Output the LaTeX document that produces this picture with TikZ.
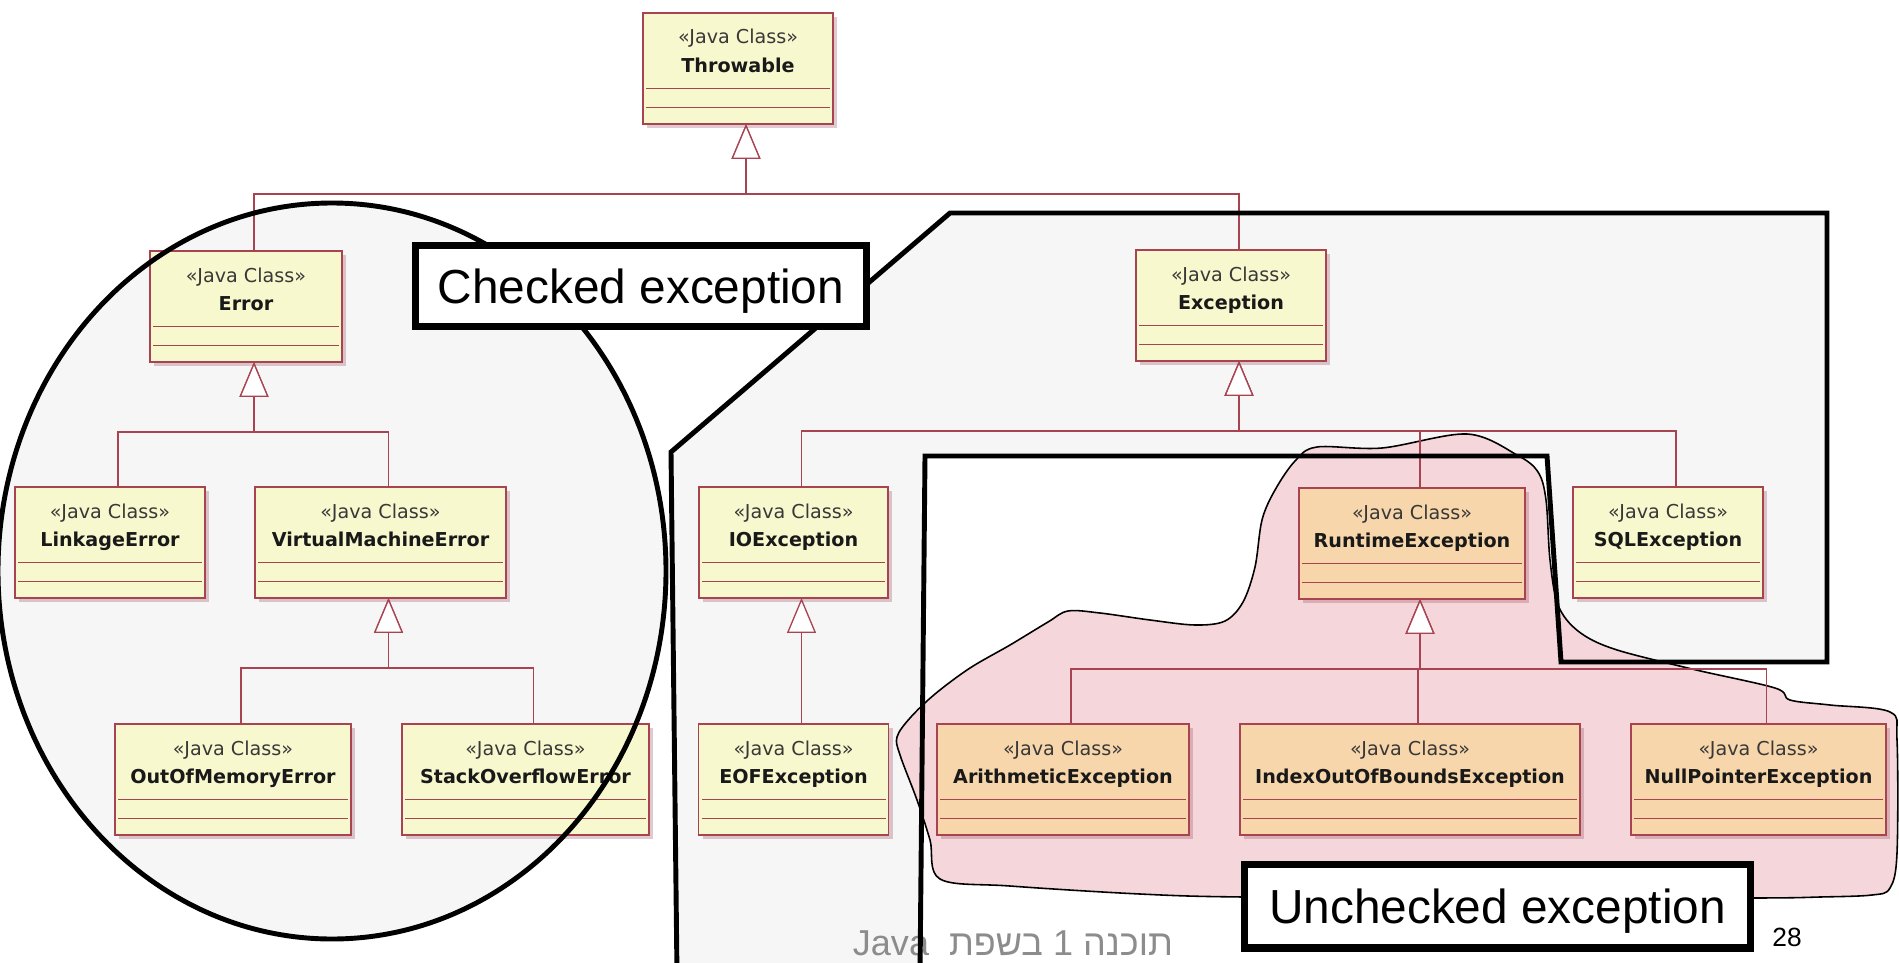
\documentclass[tikz,border=0pt]{standalone}
\usepackage{fontspec}
\newfontfamily\umlfont{DejaVu Sans}
\newfontfamily\slidefont{Liberation Sans}
\newfontfamily\hebfont[Script=Hebrew]{Liberation Sans}
\TeXXeTstate=1
\usepackage{xcolor}
\usetikzlibrary{positioning,calc,arrows.meta,shadows}

\definecolor{umlred}{RGB}{168,68,82}
\definecolor{umlyellow}{RGB}{248,248,206}
\definecolor{umlpeach}{RGB}{246,214,170}
\definecolor{blobpink}{RGB}{245,214,218}
\definecolor{areagray}{RGB}{246,246,246}
\definecolor{footgray}{RGB}{140,140,140}
\definecolor{shadowred}{RGB}{150,80,95}

\tikzset{
  classbox/.style={rectangle, draw=umlred, line width=0.9pt, anchor=north,
    minimum height=2.22cm, inner sep=0pt, outer sep=0pt,
    drop shadow={shadow xshift=2.5pt, shadow yshift=-2.5pt, fill=shadowred, opacity=0.3}},
  stereo/.style={font=\umlfont\fontsize{10.9}{13}\selectfont, text=black!78, inner sep=0pt, anchor=base},
  cname/.style={font=\umlfont\bfseries\fontsize{10.9}{13}\selectfont, text=black!90, inner sep=0pt, anchor=base},
  umlline/.style={draw=umlred, line width=0.75pt},
  inherit/.style={umlline, -{Triangle[width=0.58cm, length=0.7cm, fill=white]}},
  arealine/.style={line width=2.8pt, line join=miter},
  tag/.style={draw, line width=4pt, fill=white, inner sep=0pt, text depth=0pt,
    font=\slidefont\fontsize{27.2}{32}\selectfont},
}

\begin{document}
\begin{tikzpicture}[x=0.02cm, y=-0.02cm]
  \useasboundingbox (0,0) rectangle (1899,963);

  \fill[areagray] (671,452) -- (950,213) -- (1827,213) -- (1827,662) -- (1561,662)
    -- (1547,456) -- (925,456) -- (920,975) -- (677,975) -- cycle;
  \fill[areagray] (332,571) ellipse [x radius=334, y radius=368];
  \filldraw[fill=blobpink, draw=black, line width=0.9pt] plot[smooth cycle, tension=0.55] coordinates {
    (1467,434) (1517,455) (1538,472) (1546,500) (1550,560) (1558,605) (1578,631)
    (1614,649) (1692,669) (1775,688) (1790,700) (1830,705) (1890,712) (1897,740)
    (1897,853) (1890,888) (1872,895) (1820,897) (1754,898) (1500,898) (1244,897)
    (1140,894) (1010,886) (940,879) (930,840) (917,800) (900,755) (897,737)
    (910,718) (935,694) (970,668) (1010,645) (1048,622) (1068,611) (1100,613)
    (1150,620) (1195,625) (1225,621) (1243,602) (1255,567) (1262,520) (1275,490)
    (1295,461) (1317,447) (1382,448)};

  \foreach \n/\x/\y/\w/\c/\t in {
    thr/738/13/190/umlyellow/Throwable,
    err/246/251/192/umlyellow/Error,
    exc/1231/250/190/umlyellow/Exception,
    link/110/487/190/umlyellow/LinkageError,
    vme/380.5/487/251/umlyellow/VirtualMachineError,
    ioe/793.5/487/189/umlyellow/IOException,
    rte/1412/488/226/umlpeach/RuntimeException,
    sql/1668/487/190/umlyellow/SQLException,
    oom/233/724/236/umlyellow/OutOfMemoryError,
    soe/525.5/724/247/umlyellow/StackOverflowError,
    eof/793.5/724/190/umlyellow/EOFException,
    ari/1063/724/252/umlpeach/ArithmeticException,
    ioob/1410/724/340/umlpeach/IndexOutOfBoundsException,
    npe/1758.5/724/255/umlpeach/NullPointerException} {
    \node[classbox, fill=\c, minimum width=\w*0.02cm] (\n) at (\x,\y) {};
    \node[stereo] (\n-st) at ($(\n.north)+(0,31)$) {«Java Class»};
    \node[cname] (\n-nm) at ($(\n.north)+(0,59)$) {\t};
    \draw[umlline] ($(\n.north west)+(3,75.5)$) -- ($(\n.north east)+(-3,75.5)$);
    \draw[umlline] ($(\n.north west)+(3,94.5)$) -- ($(\n.north east)+(-3,94.5)$);
  }

  \foreach \p/\kids in {thr/{err,exc}, err/{link,vme}, vme/{oom,soe},
      exc/{ioe,rte,sql}, ioe/{eof}, rte/{ari,ioob,npe}}
    \foreach \k in \kids
      \draw[inherit] ($(\k.north)+(8,0)$) |- ($(\p.south)+(8,70)$) -- ($(\p.south)+(8,0)$);

  \node[anchor=base, inner sep=0pt, text=footgray, font=\hebfont\fontsize{20.5}{24}\selectfont] (footer)
    at (1013,955) {\beginR תוכנה 1 בשפת\ \ \beginL Java\endL\endR};

  \draw[arealine] (332,571) ellipse [x radius=334, y radius=368];
  \draw[arealine] (677,975) -- (671,452) -- (950,213) -- (1827,213) -- (1827,662)
    -- (1561,662) -- (1547,456) -- (925,456) -- (920,975);

  \node[tag, minimum width=9.02cm, minimum height=1.62cm] (checked) at (641,286) {Checked exception};
  \node[tag, minimum width=10.12cm, minimum height=1.68cm] (unchecked) at (1497.5,906) {Unchecked exception};
  \node[anchor=base, inner sep=0pt, font=\slidefont\fontsize{15}{18}\selectfont] (page) at (1787,946) {28};
\end{tikzpicture}
\end{document}
